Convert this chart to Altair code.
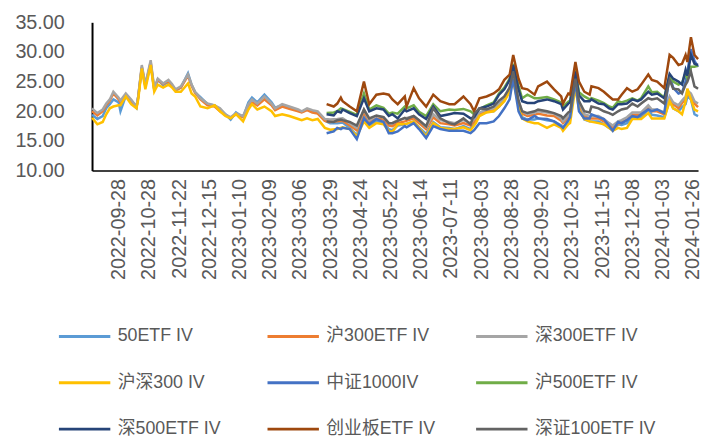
import json
import altair as alt
import pandas as pd

names = ["50ETF IV", "沪300ETF IV", "深300ETF IV", "沪深300 IV", "中证1000IV",
         "沪500ETF IV", "深500ETF IV", "创业板ETF IV", "深证100ETF IV"]
colors = ["#5B9BD5", "#ED7D31", "#A5A5A5", "#FFC000", "#4472C4",
          "#70AD47", "#264478", "#9E480E", "#636363"]

tick_labels = ["2022-09-28", "2022-10-28", "2022-11-22", "2022-12-15", "2023-01-10",
               "2023-02-09", "2023-03-06", "2023-03-29", "2023-04-24", "2023-05-22",
               "2023-06-14", "2023-07-11", "2023-08-03", "2023-08-28", "2023-09-20",
               "2023-10-23", "2023-11-15", "2023-12-08", "2024-01-03", "2024-01-26"]
tick_days = [15, 32, 49, 66, 83, 100, 117, 134, 151, 168,
             185, 202, 219, 236, 253, 270, 287, 304, 321, 338]

# trading-day index of each sample
days_a = [0, 3, 6, 8, 10, 12, 15, 16, 19, 22,
          25, 26, 28, 30, 33, 35, 37, 40, 43, 45,
          47, 50, 54, 56, 58, 61, 65, 69, 72, 75,
          78, 81, 85, 88, 90, 93, 97, 101, 103, 107,
          111, 116, 118, 121, 124, 127, 131, 134, 138, 141,
          145, 149, 153, 156, 160, 164, 167, 169, 172, 176,
          181, 184, 188, 192, 196, 201, 204, 209, 213, 216,
          218, 222, 226, 229, 232, 235, 237, 240, 242, 245,
          249, 251, 256, 260, 264, 265, 268, 269, 272, 274,
          277, 280, 285, 288, 291, 293, 296, 298, 301, 304,
          309, 313, 315, 318, 322, 325, 327, 330, 332, 334,
          335, 337, 339, 341]

days_b = [132, 136, 138, 140, 141, 145, 149, 153, 156, 160,
          164, 167, 169, 172, 176, 177, 181, 184, 188, 192,
          196, 201, 204, 209, 213, 215, 218, 222, 226, 229,
          232, 235, 237, 240, 242, 245, 249, 251, 256, 260,
          264, 265, 268, 269, 272, 274, 277, 280, 281, 285,
          288, 291, 293, 296, 298, 301, 304, 307, 309, 313,
          315, 318, 322, 325, 327, 330, 332, 334, 335, 337,
          339, 341]

etf50 = [19.4, 18.7, 19.2, 20.5, 21.2, 22.0, 21.5, 20.0, 22.6, 21.7,
         20.6, 22.5, 27.3, 24.2, 28.0, 23.6, 25.3, 24.4, 25.0, 24.3,
         23.5, 24.0, 26.4, 24.5, 23.2, 22.4, 21.2, 21.0, 20.3, 19.5,
         18.6, 19.8, 19.0, 21.5, 22.3, 21.5, 22.8, 21.5, 20.6, 21.0,
         20.6, 20.1, 19.9, 20.3, 19.9, 19.7, 18.4, 18.0, 18.0, 18.1,
         17.2, 16.0, 19.2, 17.6, 18.3, 18.0, 17.0, 16.8, 17.6, 17.8,
         18.3, 17.3, 16.2, 18.2, 17.3, 17.2, 17.0, 17.5, 17.0, 18.3,
         19.3, 19.9, 20.0, 20.8, 21.8, 23.6, 26.0, 21.0, 19.0, 18.6,
         18.6, 18.8, 18.5, 18.3, 17.6, 17.2, 18.3, 18.8, 25.0, 20.8,
         18.6, 18.3, 18.3, 17.8, 17.2, 16.8, 17.8, 17.7, 18.0, 19.0,
         19.0, 20.3, 19.4, 19.3, 19.0, 21.8, 20.5, 20.0, 20.7, 21.2,
         22.5, 22.0, 19.5, 19.2]

hu300 = [20.0, 19.3, 20.0, 21.0, 21.8, 23.0, 22.0, 21.5, 22.8, 21.8,
         20.7, 22.4, 27.5, 24.3, 28.3, 23.7, 25.3, 24.6, 25.1, 24.4,
         23.6, 24.0, 26.0, 24.3, 23.1, 22.0, 21.0, 20.8, 20.0, 19.4,
         18.9, 19.5, 19.0, 21.0, 21.6, 21.0, 22.0, 21.0, 20.2, 20.8,
         20.4, 20.0, 19.8, 20.2, 19.8, 19.6, 18.4, 18.2, 18.3, 18.4,
         17.6, 16.8, 19.8, 18.2, 18.8, 18.6, 17.6, 17.5, 18.0, 18.3,
         18.8, 18.0, 17.0, 19.0, 18.0, 17.8, 17.6, 18.0, 17.6, 18.6,
         19.5, 20.0, 20.2, 20.8, 22.0, 23.7, 26.3, 21.3, 19.6, 19.2,
         19.4, 19.6, 19.3, 19.2, 18.4, 18.0, 19.0, 19.2, 25.2, 21.3,
         19.2, 18.8, 18.8, 18.3, 17.6, 17.3, 17.9, 18.1, 18.6, 19.4,
         19.4, 20.6, 20.0, 20.0, 19.5, 22.2, 21.2, 20.5, 21.4, 22.0,
         23.0, 22.5, 21.3, 20.7]

shen300 = [20.5, 19.7, 20.3, 21.3, 22.0, 23.3, 22.3, 21.8, 23.0, 22.0,
           20.8, 22.5, 27.8, 24.5, 28.6, 23.9, 25.5, 24.7, 25.3, 24.6,
           23.7, 24.2, 26.2, 24.5, 23.3, 22.2, 21.3, 21.0, 20.5, 19.5,
           19.0, 19.7, 19.2, 21.2, 22.0, 21.3, 22.5, 21.3, 20.5, 21.2,
           20.8, 20.3, 20.0, 20.5, 20.2, 20.0, 18.7, 18.6, 18.7, 18.8,
           18.0, 17.2, 20.3, 18.5, 19.2, 19.0, 18.0, 18.0, 18.5, 18.8,
           19.2, 18.5, 17.3, 19.5, 18.5, 18.2, 18.0, 18.5, 18.0, 19.0,
           19.8, 20.3, 20.5, 21.2, 22.2, 24.0, 26.7, 21.7, 20.0, 19.5,
           19.8, 20.0, 19.8, 19.6, 18.8, 18.3, 19.3, 19.5, 25.5, 21.7,
           19.5, 19.2, 19.2, 18.7, 18.0, 17.6, 18.3, 18.5, 19.0, 19.8,
           19.8, 21.0, 20.3, 20.3, 19.8, 22.5, 21.5, 21.0, 21.8, 22.5,
           23.5, 23.0, 21.7, 21.3]

hs300 = [18.9, 17.8, 18.2, 19.5, 20.5, 20.8, 21.0, 21.0, 22.5, 21.2,
         20.5, 22.0, 27.2, 23.7, 27.8, 23.3, 24.5, 24.0, 24.5, 24.0,
         23.3, 23.3, 24.7, 23.0, 22.5, 20.8, 20.5, 21.0, 20.0, 19.2,
         18.8, 19.5, 18.3, 20.3, 21.2, 20.3, 20.8, 20.0, 19.2, 19.5,
         19.2, 18.7, 18.5, 18.8, 18.5, 18.7, 17.2, 16.9, 17.0, 17.3,
         17.0, 15.8, 18.3, 17.2, 18.0, 17.8, 16.7, 16.5, 17.8, 17.8,
         18.3, 17.2, 15.8, 18.0, 17.2, 17.0, 17.0, 17.3, 16.8, 18.0,
         19.2, 19.8, 20.0, 20.8, 21.7, 23.3, 25.0, 21.0, 18.8, 18.3,
         18.0, 18.0, 17.2, 17.8, 17.2, 16.7, 17.8, 18.0, 24.0, 20.3,
         18.7, 18.3, 18.0, 17.8, 17.2, 16.7, 17.2, 17.0, 17.2, 18.7,
         18.7, 19.7, 18.8, 18.8, 18.8, 21.7, 20.5, 20.0, 19.5, 21.7,
         23.8, 22.0, 20.3, 20.0]

zz1000 = [16.3, 16.6, 17.2, 17.0, 17.2, 17.0, 15.3, 18.8, 17.8, 18.7,
          18.2, 16.3, 16.3, 16.6, 17.5, 17.3, 18.0, 17.0, 15.5, 17.5,
          17.0, 16.7, 16.7, 16.7, 16.3, 16.8, 18.0, 18.0, 18.3, 19.2,
          20.5, 22.0, 25.5, 20.0, 18.8, 18.5, 19.2, 18.8, 18.7, 18.3,
          17.5, 17.2, 18.5, 19.0, 25.0, 20.0, 18.8, 18.8, 19.5, 19.0,
          18.7, 17.5, 16.7, 18.2, 18.0, 18.5, 19.2, 19.0, 19.5, 20.3,
          20.0, 20.3, 19.7, 26.0, 24.0, 23.0, 23.2, 25.0, 26.5, 30.5,
          28.5, 27.5]

hu500 = [19.7, 19.8, 20.0, 20.5, 20.4, 19.9, 19.4, 23.0, 20.3, 21.0,
         20.6, 19.6, 19.8, 19.6, 20.8, 20.5, 21.0, 19.9, 19.2, 21.2,
         20.0, 20.3, 20.2, 20.4, 20.0, 19.5, 20.4, 21.0, 21.5, 23.0,
         24.0, 25.5, 28.0, 24.3, 22.2, 22.8, 22.2, 22.2, 22.4, 22.0,
         21.5, 20.8, 21.6, 21.8, 27.0, 23.2, 22.5, 22.0, 22.2, 21.8,
         21.4, 20.8, 20.6, 21.7, 21.5, 21.8, 22.2, 21.8, 22.2, 24.2,
         23.2, 23.3, 22.3, 26.0, 25.0, 24.5, 24.8, 26.5, 25.5, 27.5,
         27.5, 27.7]

shen500 = [19.5, 19.3, 20.0, 19.8, 20.3, 19.7, 19.2, 22.2, 20.0, 20.5,
           20.3, 19.2, 19.5, 18.8, 20.3, 20.0, 20.5, 19.5, 18.7, 20.8,
           19.2, 19.5, 19.7, 19.6, 18.8, 19.0, 20.5, 20.8, 21.3, 22.8,
           23.7, 25.3, 27.8, 23.7, 21.7, 21.4, 21.4, 21.7, 22.0, 21.7,
           21.2, 20.3, 21.3, 21.5, 26.7, 22.7, 21.7, 21.7, 22.0, 21.3,
           21.2, 20.5, 20.3, 21.2, 21.2, 21.3, 22.0, 21.7, 22.0, 23.3,
           22.8, 23.0, 22.2, 26.3, 25.5, 25.0, 24.5, 27.0, 26.0, 29.5,
           28.0, 27.8]

cyb = [21.2, 20.8, 21.3, 22.3, 21.7, 20.8, 20.0, 25.0, 21.2, 22.8,
       23.0, 22.8, 22.0, 21.2, 22.5, 20.8, 23.9, 22.2, 20.8, 22.8,
       21.7, 21.2, 21.2, 22.5, 21.2, 20.0, 22.2, 22.5, 23.0, 23.7,
       25.3, 26.2, 29.5, 25.5, 23.9, 23.7, 22.8, 24.2, 25.0, 23.7,
       22.5, 21.3, 23.0, 22.8, 28.3, 25.0, 23.3, 22.8, 24.2, 23.9,
       23.3, 22.5, 22.0, 22.0, 22.8, 23.9, 23.3, 23.7, 24.5, 26.2,
       25.3, 25.0, 23.9, 29.5, 29.0, 27.8, 28.0, 29.5, 28.3, 32.5,
       29.5, 28.8]

sz100 = [18.3, 18.2, 18.5, 18.6, 18.5, 18.2, 17.6, 20.3, 18.8, 19.3,
         19.0, 18.0, 18.0, 18.4, 18.9, 18.7, 19.2, 18.5, 17.5, 20.5,
         18.8, 18.0, 17.8, 18.8, 17.8, 19.5, 20.5, 20.3, 20.8, 21.8,
         22.5, 24.0, 26.7, 21.8, 20.0, 19.7, 20.0, 20.3, 20.0, 19.7,
         19.2, 18.8, 19.8, 20.0, 25.5, 21.7, 20.0, 19.8, 20.8, 20.5,
         20.0, 19.7, 19.4, 20.0, 20.3, 20.5, 21.3, 20.8, 21.3, 22.2,
         22.0, 22.2, 21.3, 25.3, 23.8, 23.7, 23.0, 24.5, 25.0, 26.7,
         24.2, 23.8]

series = [(names[0], days_a, etf50), (names[1], days_a, hu300), (names[2], days_a, shen300),
          (names[3], days_a, hs300), (names[4], days_b, zz1000), (names[5], days_b, hu500),
          (names[6], days_b, shen500), (names[7], days_b, cyb), (names[8], days_b, sz100)]

rows = []
for k, (name, ds, vs) in enumerate(series):
    for d, v in zip(ds, vs):
        rows.append({"series": name, "k": k, "day": d, "iv": v})
df = pd.DataFrame(rows)

label_expr = "{}[indexof({}, datum.value)]".format(json.dumps(tick_labels), json.dumps(tick_days))

chart = alt.Chart(df).mark_line(strokeWidth=2.5).encode(
    x=alt.X("day:Q",
            scale=alt.Scale(domain=[0, 341], nice=False, zero=False),
            axis=alt.Axis(values=tick_days, labelExpr=label_expr, labelAngle=270,
                          title=None, grid=False, ticks=False, labelPadding=8,
                          labelFontSize=20, labelColor="#595959", labelFont="Liberation Sans",
                          domainColor="#000000", domainWidth=1.5, labelOverlap=False)),
    y=alt.Y("iv:Q",
            scale=alt.Scale(domain=[10, 35], nice=False, zero=False),
            axis=alt.Axis(values=[10, 15, 20, 25, 30, 35], format=".2f", title=None,
                          grid=False, ticks=False, labelPadding=28, labelFontSize=20,
                          labelColor="#595959", labelFont="Liberation Sans",
                          domainColor="#000000", domainWidth=2)),
    color=alt.Color("series:N", sort=names,
                    scale=alt.Scale(domain=names, range=colors),
                    legend=alt.Legend(title=None, orient="none", legendX=-35, legendY=290,
                                      columns=3, direction="horizontal",
                                      symbolType="stroke", symbolSize=2704,
                                      symbolStrokeWidth=3, labelFontSize=18,
                                      labelColor="#595959",
                                      labelFont="Liberation Sans, Noto Sans CJK SC",
                                      labelOffset=6, columnPadding=22, rowPadding=10,
                                      gridAlign="all", labelLimit=300)),
    detail="k:O",
).properties(
    width=613, height=150,
    autosize=alt.AutoSizeParams(type="none"),
    padding={"left": 85, "top": 12, "right": 4, "bottom": 267},
).configure_view(stroke=None)

chart.save("out.html", embed_options={"renderer": "svg", "actions": False})
